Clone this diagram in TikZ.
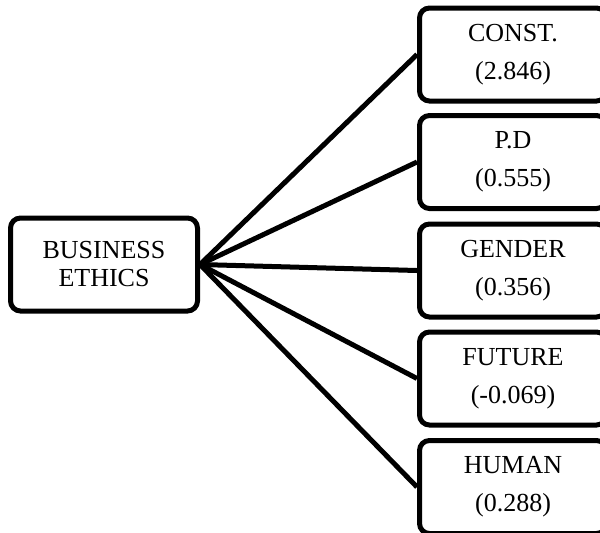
\documentclass[tikz,border=0pt]{standalone}
\usepackage{fontspec}
\setmainfont{Liberation Serif}
\usetikzlibrary{positioning}

\begin{document}
\begin{tikzpicture}[
  x=0.5pt, y=-0.5pt,
  box/.style={draw, line width=2.5pt, rounded corners=5pt,
    minimum width=93.5pt, minimum height=46.5pt, inner sep=0pt,
    align=center, font=\fontsize{13}{14}\selectfont},
  link/.style={line width=2.5pt}
]
  % Page frame
  \useasboundingbox (0,0) rectangle (600,532);
  \clip (0,0) rectangle (600,532);

  % Dependent variable
  \node[box] (ethics) at (104, 264.5) {BUSINESS\\ETHICS};

  % Predictors with coefficients
  \foreach \name/\label/\coef/\y in {const/CONST./2.846/54.5, pd/P.D/0.555/162,
      gender/GENDER/0.356/270.5, future/FUTURE/-0.069/378.5, human/HUMAN/0.288/487} {
    \node[box] (\name) at (513, \y) {\label\\[5pt](\coef)};
    \draw[link] (ethics.east) -- (\name.west);
  }
\end{tikzpicture}
\end{document}
